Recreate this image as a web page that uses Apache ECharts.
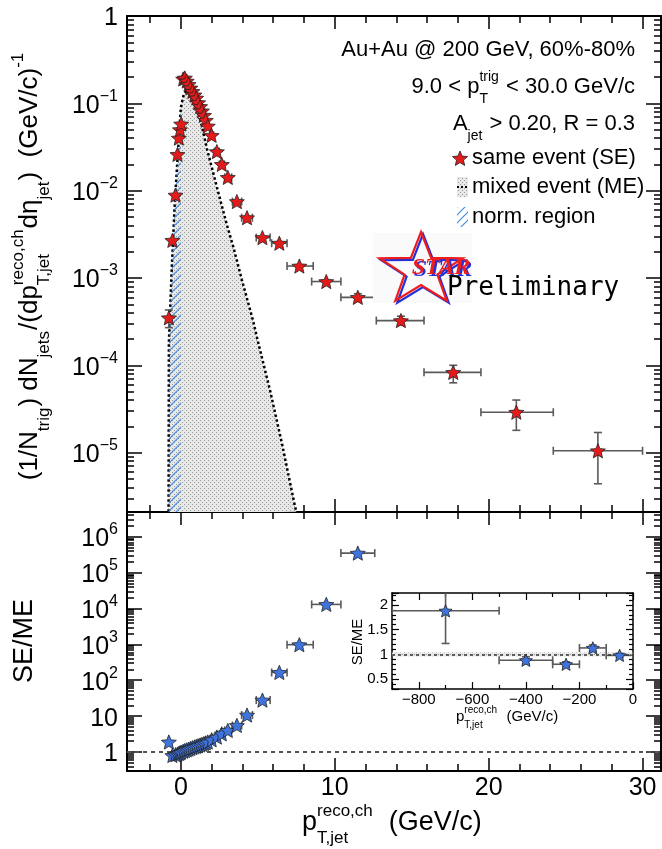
<!DOCTYPE html>
<html>
<head>
<meta charset="utf-8">
<title>SE / ME jet yield</title>
<script src="https://cdn.jsdelivr.net/npm/echarts@6.0.0/dist/echarts.min.js"></script>
<style>
  html, body { margin: 0; padding: 0; background: #fff; }
  #chart { width: 662px; height: 849px; }
</style>
</head>
<body>
<div id="chart"></div>
<script>
// ---- values ----
const pT = [-0.78, -0.55, -0.35, -0.22, -0.13, -0.06, 0.02, 0.15, 0.26, 0.38, 0.5, 0.62,
  0.75, 0.88, 1.0, 1.12, 1.25, 1.37, 1.5, 1.62, 1.75, 2.0, 2.34, 2.66,
  3.05, 3.64, 4.3, 5.3, 6.4, 7.7, 9.45, 11.5, 14.3, 17.7, 21.8, 27.1];
const binLo = [-0.83, -0.6, -0.4, -0.27, -0.17, -0.1, -0.02, 0.1, 0.2, 0.32, 0.44, 0.56,
  0.69, 0.82, 0.94, 1.06, 1.19, 1.31, 1.44, 1.56, 1.69, 1.88, 2.17, 2.5,
  2.85, 3.35, 3.95, 4.9, 5.9, 6.9, 8.5, 10.4, 12.7, 15.8, 19.5, 24.2];
const binHi = [-0.73, -0.5, -0.3, -0.17, -0.09, -0.02, 0.06, 0.2, 0.32, 0.44, 0.56, 0.69,
  0.82, 0.94, 1.06, 1.19, 1.31, 1.44, 1.56, 1.69, 1.81, 2.12, 2.5, 2.83,
  3.3, 3.95, 4.65, 5.8, 6.9, 8.6, 10.4, 12.6, 15.8, 19.5, 24.2, 30.0];
// same event yield
const seYield = [3.5e-4, 2.7e-3, 8.9e-3, 2.6e-2, 4.0e-2, 5.0e-2, 5.8e-2, 0.19, 0.195, 0.18, 0.165, 0.15,
  0.137, 0.125, 0.115, 0.102, 0.092, 0.082, 0.073, 0.064, 0.055, 0.043, 0.028, 0.020,
  0.0142, 0.0075, 0.0049, 0.0029, 0.0025, 0.00137, 0.00091, 6.0e-4, 3.25e-4, 8.3e-5, 2.9e-5, 1.05e-5];
const seYLo = [2.7e-4, null, null, null, null, null, null, null, null, null, null, null,
  null, null, null, null, null, null, null, null, null, null, null, null,
  null, null, null, null, null, null, null, 5.4e-4, 2.9e-4, 6.3e-5, 1.8e-5, 4.4e-6];
const seYHi = [4.3e-4, null, null, null, null, null, null, null, null, null, null, null,
  null, null, null, null, null, null, null, null, null, null, null, null,
  null, null, null, null, null, null, null, 6.6e-4, 3.65e-4, 1.0e-4, 4.0e-5, 1.7e-5];
// SE/ME ratio (no mixed events above ~12 GeV/c)
const ratio = [1.9, 0.80, 0.84, 0.88, 0.91, 0.95, 0.99, 1.05, 1.1, 1.15, 1.2, 1.26,
  1.32, 1.38, 1.44, 1.5, 1.57, 1.64, 1.72, 1.8, 1.9, 2.2, 2.6, 3.2,
  4.0, 5.5, 10.7, 28, 165, 980, 1.3e4, 3.5e5, null, null, null, null];
// mixed event distribution (outline)
const meX = [-0.8, -0.78, -0.6, -0.4, -0.2, 0, 0.2, 0.4, 0.6, 0.9, 1.23, 1.7,
  2.34, 3.0, 3.4, 3.96, 4.7, 5.0, 5.78, 6.6, 7.4, 7.5];
const meY = [2.1e-6, 1.8e-4, 1.2e-3, 7e-3, 2.6e-2, 0.09, 0.13, 0.14, 0.13, 0.1, 0.07, 0.03,
  0.011, 4e-3, 2.3e-3, 9.6e-4, 3.2e-4, 1.9e-4, 5.3e-5, 1.2e-5, 2.5e-6, 2.1e-6];
const normRange = [-0.8, 0];
// inset: negative pT bins
const insetX = [-700, -400, -250, -150, -50];
const insetY = [1.88, 0.88, 0.80, 1.13, 0.98];
const insetXLo = [-900, -500, -300, -200, -100];
const insetXHi = [-500, -300, -200, -100, 0];
const insetYLo = [1.22, 0.81, 0.75, 1.07, 0.94];
const insetYHi = [2.6, 0.95, 0.85, 1.19, 1.02];
const insetBand = [0.96, 1.04];

const FONT = '"Liberation Sans", Arial, Helvetica, sans-serif';
const X_MIN = -3.5, X_MAX = 31.2;
const TOP_MIN = Math.pow(10, -5.68), TOP_MAX = 1;
const BOT_MIN = Math.pow(10, -0.53), BOT_MAX = Math.pow(10, 6.69);
const RED = '#e41b1b', BLUE = '#3f74de';

// ---- fill patterns ----
function stipple() {
    const c = document.createElement('canvas');
    c.width = c.height = 4;
    const g = c.getContext('2d');
    g.fillStyle = '#e8e8e8'; g.fillRect(0, 0, 4, 4);
    g.fillStyle = '#999999'; g.fillRect(0, 0, 1, 1); g.fillRect(2, 2, 1, 1);
    return { image: c, repeat: 'repeat' };
}
function hatch() {
    const c = document.createElement('canvas');
    c.width = c.height = 8;
    const g = c.getContext('2d');
    g.strokeStyle = '#3f8ee6'; g.lineWidth = 1.2;
    g.beginPath();
    g.moveTo(0, 8); g.lineTo(8, 0);
    g.moveTo(-1, 1); g.lineTo(1, -1);
    g.moveTo(7, 9); g.lineTo(9, 7);
    g.stroke();
    return { image: c, repeat: 'repeat' };
}
const GREY_FILL = stipple();
const HATCH_FILL = hatch();

function starPoints(cx, cy, R, r, sx) {
    sx = sx || 1;
    let pts = [];
    for (let i = 0; i < 10; i++) {
        let a = -Math.PI / 2 + i * Math.PI / 5;
        let rad = i % 2 ? r : R;
        pts.push([cx + sx * rad * Math.cos(a), cy + rad * Math.sin(a)]);
    }
    return pts;
}
const STAR = 'path://' + starPoints(0, 0, 10, 4.5)
    .map((p, i) => (i ? 'L' : 'M') + p[0].toFixed(2) + ',' + p[1].toFixed(2)).join('') + 'Z';

// ---- text with sub/superscripts ----
const measureCtx = document.createElement('canvas').getContext('2d');
function textWidth(s, size) {
    measureCtx.font = size + 'px ' + FONT;
    return measureCtx.measureText(s).width;
}
function mathText(parts, size, x, y, align, rotation) {
    const small = Math.round(size * 0.64);
    let items = [], cx = 0;
    parts.forEach(p => {
        if (typeof p === 'string') {
            items.push({ s: p, x: cx, dy: 0, size: size });
            cx += textWidth(p, size);
        } else {
            let w = 0;
            if (p.sup) { items.push({ s: p.sup, x: cx, dy: -0.45 * size, size: small }); w = Math.max(w, textWidth(p.sup, small)); }
            if (p.sub) { items.push({ s: p.sub, x: cx, dy: 0.55 * size, size: small }); w = Math.max(w, textWidth(p.sub, small)); }
            cx += w + 1;
        }
    });
    let off = align === 'right' ? -cx : (align === 'center' ? -cx / 2 : 0);
    return {
        type: 'group', x: x, y: y, rotation: rotation || 0, z: 30,
        children: items.map(it => ({
            type: 'text', x: it.x + off, y: it.dy,
            style: { text: it.s, fontSize: it.size, fontFamily: FONT, fill: '#000', align: 'left', verticalAlign: 'middle' }
        }))
    };
}

// ---- axes ----
const AX_LINE = { onZero: false, lineStyle: { color: '#000', width: 2 } };
const SUP_RICH = {
    b: { fontSize: 25, fontFamily: FONT, color: '#000', lineHeight: 30, verticalAlign: 'bottom' },
    s: { fontSize: 16, fontFamily: FONT, color: '#000', lineHeight: 16, verticalAlign: 'top' }
};
function powLabel(v, plainTen) {
    let e = Math.round(Math.log10(v));
    if (e === 0) return '{b|1}';
    if (e === 1 && plainTen) return '{b|10}';
    return '{b|10}{s|' + (e < 0 ? '\u2212' + (-e) : e) + '}';
}
function xAxisDef(grid, pos, labels) {
    return {
        type: 'value', gridIndex: grid, position: pos, min: X_MIN, max: X_MAX, splitNumber: 3,
        axisLine: AX_LINE,
        axisTick: { inside: true, length: 13, lineStyle: { color: '#000', width: 1.5 } },
        minorTick: { show: true, splitNumber: 5, length: 7, lineStyle: { color: '#000', width: 1.5 } },
        splitLine: { show: false },
        axisLabel: labels ? {
            interval: 0, showMinLabel: false, showMaxLabel: false, margin: 5,
            fontSize: 25, fontFamily: FONT, color: '#000'
        } : { show: false }
    };
}
function logAxisDef(grid, pos, min, max, fmt, showMax) {
    return {
        type: 'log', logBase: 10, gridIndex: grid, position: pos, min: min, max: max,
        axisLine: AX_LINE,
        axisTick: { inside: true, length: 15, lineStyle: { color: '#000', width: 1.5 } },
        minorTick: { show: true, splitNumber: 9, length: 7, lineStyle: { color: '#000', width: 1.5 } },
        splitLine: { show: false },
        axisLabel: fmt ? {
            interval: 0, showMinLabel: false, showMaxLabel: showMax, margin: 9,
            formatter: fmt, rich: SUP_RICH
        } : { show: false }
    };
}
function insetAxisDef(kind, pos, labels) {
    const isX = kind === 'x';
    return {
        type: 'value', gridIndex: 2, position: pos,
        min: isX ? -900 : 0.3, max: isX ? 0 : 2.24, splitNumber: isX ? 5 : 4,
        axisLine: { onZero: false, lineStyle: { color: '#000', width: 1.5 } },
        axisTick: { inside: true, length: 7, lineStyle: { color: '#000', width: 1.2 } },
        minorTick: { show: true, splitNumber: isX ? 2 : 5, length: 4, lineStyle: { color: '#000', width: 1.2 } },
        splitLine: { show: false },
        axisLabel: labels ? {
            interval: 0, showMinLabel: false, showMaxLabel: isX, margin: isX ? 3 : 4,
            fontSize: 15, fontFamily: FONT, color: '#000',
            formatter: v => String(v).replace('-', '\u2212')
        } : { show: false }
    };
}

// ---- error bars ----
function renderErrors(params, api) {
    const y = api.value(1);
    const c = api.coord([api.value(0), y]);
    const l = api.coord([api.value(2), y]);
    const r = api.coord([api.value(3), y]);
    const lo = api.coord([api.value(0), api.value(4)]);
    const hi = api.coord([api.value(0), api.value(5)]);
    const cap = 4;
    let segs = [];
    if (r[0] - l[0] > 3) {
        segs.push([l[0], c[1], r[0], c[1]], [l[0], c[1] - cap, l[0], c[1] + cap], [r[0], c[1] - cap, r[0], c[1] + cap]);
    }
    if (lo[1] - hi[1] > 3) {
        segs.push([c[0], lo[1], c[0], hi[1]], [c[0] - cap, lo[1], c[0] + cap, lo[1]], [c[0] - cap, hi[1], c[0] + cap, hi[1]]);
    }
    return {
        type: 'group',
        children: segs.map(s => ({
            type: 'line', shape: { x1: s[0], y1: s[1], x2: s[2], y2: s[3] },
            style: { stroke: '#5a5a5a', lineWidth: 1.6 }
        }))
    };
}

const seData = pT.map((x, i) => [x, seYield[i]]);
const seErr = pT.map((x, i) => [x, seYield[i], binLo[i], binHi[i],
    seYLo[i] == null ? seYield[i] : seYLo[i], seYHi[i] == null ? seYield[i] : seYHi[i]]);
const ratioIdx = pT.map((x, i) => i).filter(i => ratio[i] != null);
const ratioData = ratioIdx.map(i => [pT[i], ratio[i]]);
const ratioErr = ratioIdx.map(i => [pT[i], ratio[i], binLo[i], binHi[i], ratio[i], ratio[i]]);
const meData = meX.map((x, i) => [x, meY[i]]);
const normData = meData.filter(p => p[0] >= normRange[0] && p[0] <= normRange[1]);
const insetData = insetX.map((x, i) => [x, insetY[i]]);
const insetErr = insetX.map((x, i) => [x, insetY[i], insetXLo[i], insetXHi[i], insetYLo[i], insetYHi[i]]);

// ---- text, legend and logo ----
const graphics = [
    mathText(['Au+Au @ 200 GeV, 60%-80%'], 22, 635, 50, 'right'),
    mathText(['9.0 < p', { sup: 'trig', sub: 'T' }, ' < 30.0 GeV/c'], 22, 635, 87, 'right'),
    mathText(['A', { sub: 'jet' }, ' > 0.20, R = 0.3'], 22, 635, 124, 'right'),
    { type: 'polygon', z: 30, shape: { points: starPoints(460, 159, 8, 3.6) }, style: { fill: RED, stroke: '#222', lineWidth: 0.8 } },
    mathText(['same event (SE)'], 22, 472, 158, 'left'),
    { type: 'rect', z: 30, shape: { x: 457, y: 177, width: 11, height: 20 }, style: { fill: GREY_FILL } },
    { type: 'line', z: 31, shape: { x1: 457, y1: 187, x2: 468, y2: 187 }, style: { stroke: '#000', lineWidth: 2, lineDash: [2, 2] } },
    mathText(['mixed event (ME)'], 22, 472, 187, 'left'),
    { type: 'rect', z: 30, shape: { x: 457, y: 207, width: 11, height: 20 }, style: { fill: HATCH_FILL } },
    mathText(['norm. region'], 22, 472, 217, 'left'),
    // STAR preliminary logo
    { type: 'rect', z: 20, shape: { x: 373, y: 233, width: 99, height: 70 }, style: { fill: '#fafafa' } },
    { type: 'polygon', z: 21, shape: { points: starPoints(423, 272, 38, 15, 1.15) }, style: { fill: 'none', stroke: '#2430d8', lineWidth: 2.2 } },
    { type: 'polygon', z: 22, shape: { points: starPoints(421, 270, 38, 15, 1.15) }, style: { fill: 'none', stroke: '#ee1c1c', lineWidth: 2.2 } },
    { type: 'text', z: 23, x: 443, y: 270, style: { text: 'STAR', fontSize: 24, fontWeight: 'bold', fontStyle: 'italic', fontFamily: '"Liberation Serif", serif', fill: '#2430d8', align: 'center', verticalAlign: 'middle' } },
    { type: 'text', z: 24, x: 441, y: 268, style: { text: 'STAR', fontSize: 24, fontWeight: 'bold', fontStyle: 'italic', fontFamily: '"Liberation Serif", serif', fill: '#ee1c1c', align: 'center', verticalAlign: 'middle' } },
    { type: 'text', z: 25, x: 447, y: 288, style: { text: 'Preliminary', fontSize: 26, fontFamily: '"DejaVu Sans Mono", monospace', fill: '#000', align: 'left', verticalAlign: 'middle' } },
    // axis titles
    mathText(['(1/N', { sub: 'trig' }, ') dN', { sub: 'jets' }, '/(dp', { sub: 'T,jet', sup: 'reco,ch' }, 'd\u03b7', { sub: 'jet' }, ')  (GeV/c)', { sup: '-1' }],
        26, 30, 266, 'center', Math.PI / 2),
    mathText(['SE/ME'], 27, 25, 641, 'center', Math.PI / 2),
    mathText(['p', { sub: 'T,jet', sup: 'reco,ch' }, '  (GeV/c)'], 27, 302, 823, 'left'),
    mathText(['SE/ME'], 15, 358, 642, 'center', Math.PI / 2),
    mathText(['p', { sub: 'T,jet', sup: 'reco,ch' }, '  (GeV/c)'], 15, 456, 717, 'left')
];

const chart = echarts.init(document.getElementById('chart'), null, { renderer: 'canvas' });
chart.setOption({
    animation: false,
    backgroundColor: '#fff',
    grid: [
        { left: 127, top: 16, width: 534, height: 496 },
        { left: 127, top: 512, width: 534, height: 259 },
        { left: 392, top: 593, width: 241, height: 96, show: true, backgroundColor: '#fff', borderWidth: 0 }
    ],
    xAxis: [
        xAxisDef(0, 'bottom', false),
        xAxisDef(0, 'top', false),
        xAxisDef(1, 'bottom', true),
        xAxisDef(1, 'top', false),
        insetAxisDef('x', 'bottom', true),
        insetAxisDef('x', 'top', false)
    ],
    yAxis: [
        logAxisDef(0, 'left', TOP_MIN, TOP_MAX, v => powLabel(v, false), true),
        logAxisDef(0, 'right', TOP_MIN, TOP_MAX, null),
        logAxisDef(1, 'left', BOT_MIN, BOT_MAX, v => powLabel(v, true), false),
        logAxisDef(1, 'right', BOT_MIN, BOT_MAX, null),
        insetAxisDef('y', 'left', true),
        insetAxisDef('y', 'right', false)
    ],
    series: [
        {
            name: 'mixed event (ME)', type: 'line', xAxisIndex: 0, yAxisIndex: 0, z: 2,
            data: meData, symbol: 'none',
            lineStyle: { color: '#000', width: 2.5, type: [2.5, 2.5] },
            areaStyle: { color: GREY_FILL, opacity: 1, origin: 'start' }
        },
        {
            name: 'norm. region', type: 'line', xAxisIndex: 0, yAxisIndex: 0, z: 3,
            data: normData, symbol: 'none',
            lineStyle: { width: 0 },
            areaStyle: { color: HATCH_FILL, opacity: 1, origin: 'start' }
        },
        {
            type: 'custom', xAxisIndex: 0, yAxisIndex: 0, z: 4, clip: true,
            data: seErr, encode: { x: 0, y: 1 }, renderItem: renderErrors
        },
        {
            name: 'same event (SE)', type: 'scatter', xAxisIndex: 0, yAxisIndex: 0, z: 5,
            data: seData, symbol: STAR, symbolSize: 15, symbolKeepAspect: true,
            itemStyle: { color: RED, borderColor: '#222', borderWidth: 0.8, opacity: 1 }
        },
        {
            type: 'custom', xAxisIndex: 2, yAxisIndex: 2, z: 4, clip: true,
            data: ratioErr, encode: { x: 0, y: 1 }, renderItem: renderErrors
        },
        {
            name: 'SE/ME', type: 'scatter', xAxisIndex: 2, yAxisIndex: 2, z: 5,
            data: ratioData, symbol: STAR, symbolSize: 15, symbolKeepAspect: true,
            itemStyle: { color: BLUE, borderColor: '#222', borderWidth: 0.8, opacity: 1 },
            markLine: {
                silent: true, symbol: 'none', label: { show: false },
                lineStyle: { color: '#555', width: 2, type: [4, 4] },
                data: [{ yAxis: 1 }]
            }
        },
        {
            type: 'custom', xAxisIndex: 4, yAxisIndex: 4, z: 4, clip: true,
            data: insetErr, encode: { x: 0, y: 1 }, renderItem: renderErrors
        },
        {
            name: 'SE/ME inset', type: 'scatter', xAxisIndex: 4, yAxisIndex: 4, z: 5,
            data: insetData, symbol: STAR, symbolSize: 13, symbolKeepAspect: true,
            itemStyle: { color: BLUE, borderColor: '#222', borderWidth: 0.8, opacity: 1 },
            markArea: {
                silent: true, itemStyle: { color: GREY_FILL, opacity: 1 },
                data: [[{ yAxis: insetBand[0] }, { yAxis: insetBand[1] }]]
            },
            markLine: {
                silent: true, symbol: 'none', label: { show: false },
                lineStyle: { color: '#333', width: 1.5, type: [3, 3] },
                data: [{ yAxis: 1 }]
            }
        }
    ],
    graphic: graphics
});
</script>
</body>
</html>
